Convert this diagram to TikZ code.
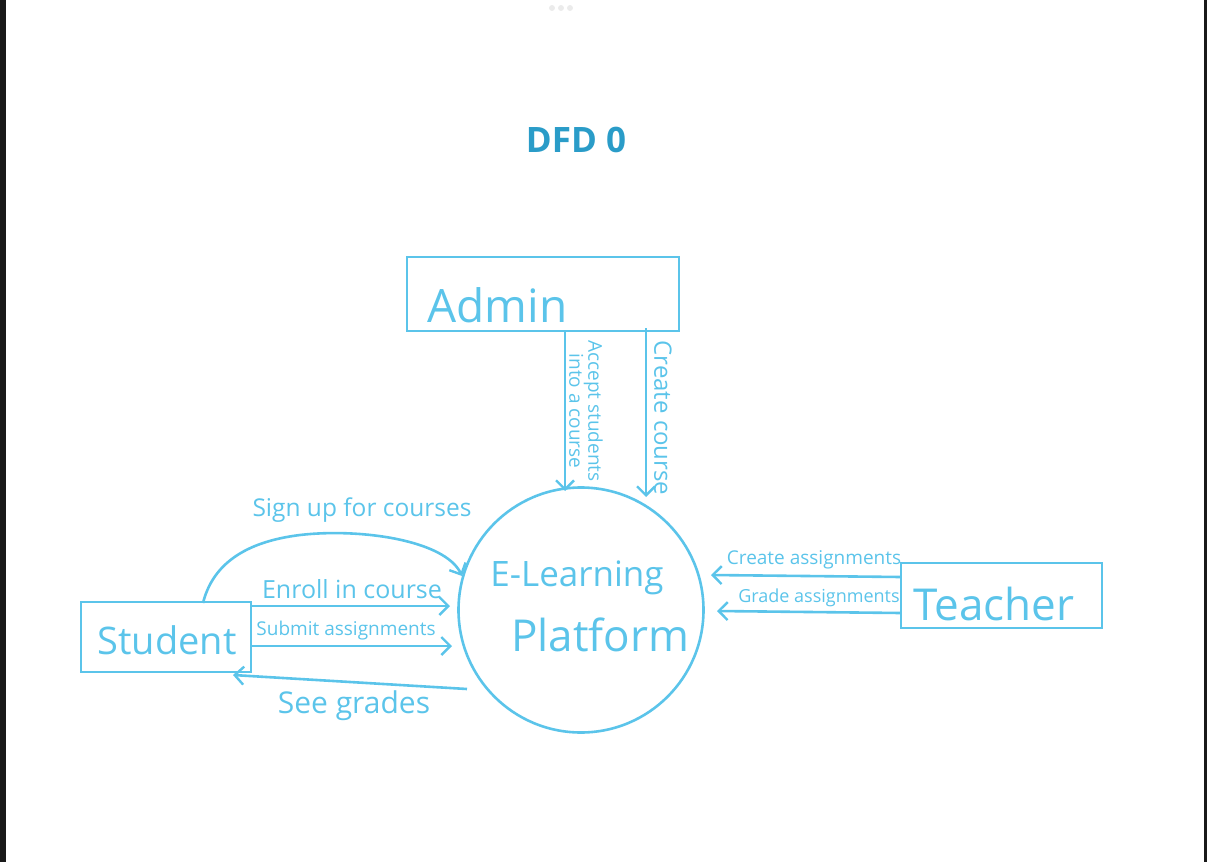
\documentclass[tikz,border=0pt]{standalone}
\usepackage{fontspec}
\setmainfont{Open Sans}
\usetikzlibrary{arrows.meta}
\definecolor{sk}{HTML}{5BC4EA}
\definecolor{ttl}{HTML}{2A9CC8}
\begin{document}
\begin{tikzpicture}[x=1pt,y=-1pt,
  ent/.style={draw=sk,line width=2.6pt,text=sk,inner sep=0pt},
  flow/.style={draw=sk,line width=2.6pt,-{Straight Barb[length=9pt,width=18pt,line width=2.4pt]}},
  lbl/.style={text=sk,inner sep=1pt}]
\useasboundingbox (0,0) rectangle (1207,862);
\fill[black!90] (0,0) rectangle (6,862);
\fill[black!90] (1204,0) rectangle (1207,862);
\foreach \xx in {552,561,570}{\fill[black!8] (\xx,8) circle (3);}
\node[text=ttl,font=\fontsize{35}{38}\selectfont\bfseries] (title) at (576,140) {DFD 0};
% entities
\node[ent,minimum width=272pt,minimum height=74pt] (admin) at (543,294) {};
\node[text=sk,font=\fontsize{46}{50}\selectfont,anchor=west] (admint) at (424,305) {Admin};
\node[ent,minimum width=170pt,minimum height=70pt] (student) at (166,637) {};
\node[text=sk,font=\fontsize{38}{42}\selectfont] (studentt) at (167,640) {Student};
\node[ent,minimum width=201pt,minimum height=65pt] (teacher) at (1001.5,595.5) {};
\node[text=sk,font=\fontsize{44}{48}\selectfont] (teachert) at (994,604) {Teacher};
\node[draw=sk,line width=2.6pt,circle,minimum size=245pt,inner sep=0pt] (elp) at (581,610) {};
\node[text=sk,font=\fontsize{35}{38}\selectfont] (elpt1) at (577,578) {E-Learning};
\node[text=sk,font=\fontsize{44}{48}\selectfont] (elpt2) at (600,635) {Platform};
% admin flows
\coordinate (a1s) at (565,331); \coordinate (a1e) at (565,491);
\coordinate (a2s) at (646,328); \coordinate (a2e) at (646,497);
\draw[flow] (a1s) -- (a1e);
\draw[flow] (a2s) -- (a2e);
\node[lbl,rotate=-90,font=\fontsize{19}{19}\selectfont,align=center] (acc) at (586,411) {Accept students\\into a course};
\node[lbl,rotate=-90,font=\fontsize{24}{24}\selectfont] (cc) at (663,418) {Create course};
% student flows
\coordinate (s0) at (203,603);
\coordinate (s0e) at (462,576);
\draw[flow] (s0) .. controls (215,555) and (260,540) .. (300,535) .. controls (360,528) and (445,540) .. (s0e);
\node[lbl,font=\fontsize{24.5}{25}\selectfont] (sign) at (362,510) {Sign up for courses};
\coordinate (e1s) at (251,606); \coordinate (e1e) at (450,606);
\draw[flow] (e1s) -- (e1e);
\node[lbl,font=\fontsize{25}{25}\selectfont] (enr) at (352,589) {Enroll in course};
\coordinate (e2s) at (251,646); \coordinate (e2e) at (452,646);
\draw[flow] (e2s) -- (e2e);
\node[lbl,font=\fontsize{19}{19}\selectfont] (sub) at (346,631) {Submit assignments};
\coordinate (g1s) at (467,689); \coordinate (g1e) at (233,675);
\draw[flow] (g1s) -- (g1e);
\node[lbl,font=\fontsize{30}{30}\selectfont] (see) at (354,706) {See grades};
% teacher flows
\coordinate (t1s) at (901,577); \coordinate (t1e) at (711,575);
\draw[flow] (t1s) -- (t1e);
\node[lbl,font=\fontsize{19}{19}\selectfont] (ca) at (814,560) {Create assignments};
\coordinate (t2s) at (901,613); \coordinate (t2e) at (717,611);
\draw[flow] (t2s) -- (t2e);
\node[lbl,font=\fontsize{18}{18}\selectfont] (ga) at (819,598) {Grade assignments};
\end{tikzpicture}
\end{document}
